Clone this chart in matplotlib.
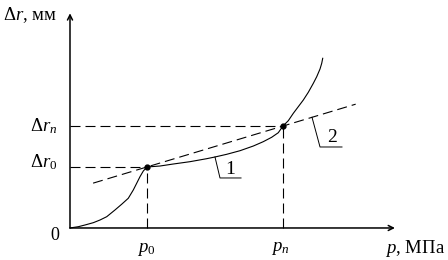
import matplotlib
matplotlib.use("Agg")
import matplotlib.pyplot as plt

plt.rcParams["font.family"] = ["Liberation Serif", "DejaVu Serif"]
plt.rcParams["mathtext.fontset"] = "custom"
plt.rcParams["mathtext.rm"] = "Liberation Serif"
plt.rcParams["mathtext.it"] = "Liberation Serif:italic"

# curve 1: deformation vs pressure (relative units, p0 = 1, dr0 = 1)
curve_p = [0, 0.108, 0.195, 0.303, 0.390, 0.477, 0.584, 0.671, 0.757, 0.822,
           0.866, 0.909, 0.952, 1.0,
           1.169, 1.342, 1.558, 1.775, 1.883, 2.035, 2.208, 2.381, 2.510,
           2.619, 2.705, 2.766,
           2.835, 2.900, 2.965, 3.030, 3.095, 3.160, 3.204, 3.247, 3.269, 3.282]
curve_dr = [0, 0.021, 0.049, 0.087, 0.131, 0.185, 0.295, 0.389, 0.487, 0.623,
            0.733, 0.841, 0.934, 1.0,
            1.016, 1.049, 1.087, 1.136, 1.164, 1.208, 1.267, 1.344, 1.415,
            1.487, 1.562, 1.672,
            1.759, 1.880, 1.989, 2.098, 2.225, 2.372, 2.480, 2.607, 2.700, 2.782]

# characteristic points
p0, dr0 = 1.0, 1.0
pn, drn = 2.766, 1.672

# line 2 (secant through both points)
line2_p = [0.30, 3.71]
line2_dr = [0.735, 2.03]

# leader lines for labels 1 and 2
leader1_p = [1.883, 1.948, 2.221]
leader1_dr = [1.164, 0.82, 0.82]
leader2_p = [3.143, 3.247, 3.532]
leader2_dr = [1.815, 1.328, 1.328]

x_end, y_end = 4.22, 3.52

fig = plt.figure(figsize=(4.48, 2.6), dpi=100)
ax = fig.add_axes([0, 0, 1, 1])
ax.set_xlim(-0.909, 4.909)
ax.set_ylim(-0.525, 3.738)
ax.axis("off")

# axes with arrows
arrow = dict(arrowstyle="->", lw=1.1, color="black", shrinkA=0, shrinkB=0,
             mutation_scale=9)
ax.annotate("", xy=(x_end, 0), xytext=(0, 0), arrowprops=arrow)
ax.annotate("", xy=(0, y_end), xytext=(0, 0), arrowprops=arrow)

dash = dict(color="black", lw=0.8, dashes=(9, 4.5))
ax.plot([0, p0], [dr0, dr0], **dash)
ax.plot([p0, p0], [0, dr0], **dash)
ax.plot([0, pn], [drn, drn], **dash)
ax.plot([pn, pn], [0, drn], **dash)
ax.plot(line2_p, line2_dr, **dash)

ax.plot(curve_p, curve_dr, color="black", lw=0.8, solid_joinstyle="round")
ax.plot([p0, pn], [dr0, drn], "o", color="black", ms=3.5)

ax.plot(leader1_p, leader1_dr, color="black", lw=0.7)
ax.plot(leader2_p, leader2_dr, color="black", lw=0.7)
ax.text(2.078, 0.967, "1", fontsize=14, ha="center", va="center")
ax.text(3.403, 1.49, "2", fontsize=14, ha="center", va="center")

fs = 13.5
ax.text(-0.87, 3.49, r"$\Delta r$, мм", fontsize=fs, ha="left", va="center")
ax.text(-0.169, drn, r"$\Delta r_{n}$", fontsize=fs, ha="right", va="center")
ax.text(-0.169, 1.08, r"$\Delta r_{\mathit{0}}$", fontsize=fs, ha="right", va="center")
ax.text(-0.195, -0.131, "0", fontsize=13, ha="center", va="center")
ax.text(0.987, -0.36, r"$p_{\mathit{0}}$", fontsize=fs, ha="center", va="center")
ax.text(2.727, -0.33, r"$p_{n}$", fontsize=fs, ha="center", va="center")
ax.text(4.09, -0.34, r"$p$, МПа", fontsize=fs, ha="left", va="center")

fig.savefig("out.png", dpi=100)
